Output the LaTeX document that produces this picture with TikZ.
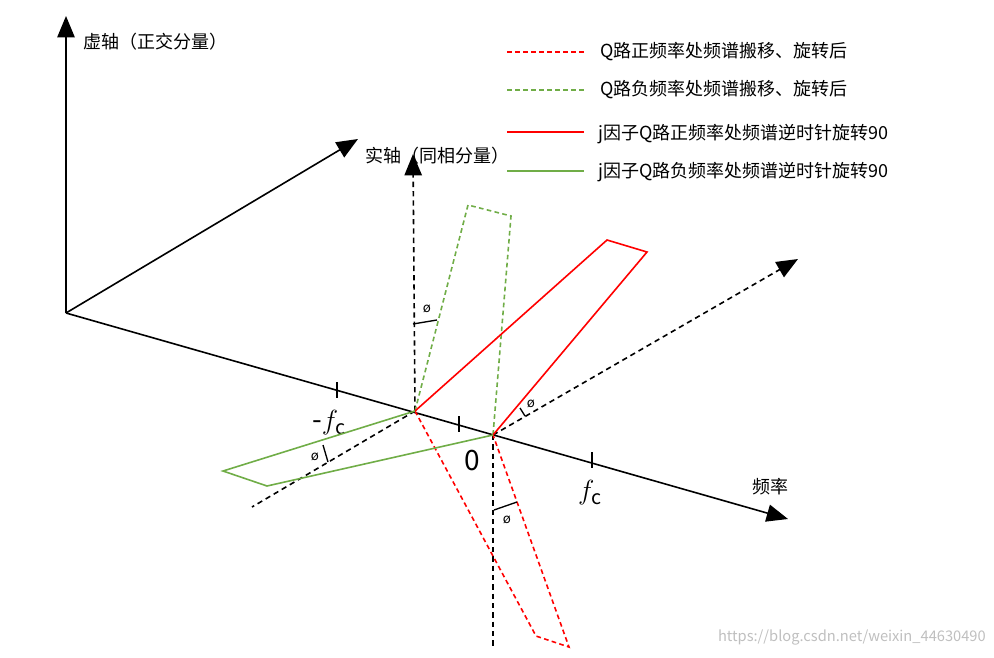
\documentclass[tikz,border=0pt]{standalone}
\usepackage{fontspec}
\setmainfont{Noto Sans CJK SC}
\usetikzlibrary{arrows.meta}
\begin{document}
\begin{tikzpicture}[x=0.75pt,y=-0.75pt,
  ax/.style={line width=1.2pt},
  axarr/.style={ax,-{Triangle[length=16pt,width=13pt]}},
  dsh/.style={line width=1.2pt,dash pattern=on 4pt off 3pt},
  rd/.style={red,line width=1.2pt},
  gr/.style={color={rgb,255:red,112;green,173;blue,71},line width=1.2pt},
  cd/.style={dash pattern=on 3.5pt off 2.5pt},
  lbl/.style={font=\fontsize{13.5}{15}\selectfont,inner sep=0pt,anchor=west},
  mk/.style={font=\fontsize{10}{11}\selectfont,inner sep=0pt}]
\useasboundingbox (0,0) rectangle (994,657);
\coordinate (O) at (66,313);
\coordinate (A) at (415,411);
\coordinate (B) at (493,435);
\draw[axarr] (O) -- (66,16) coordinate (vz);
\node[lbl] (vzl) at (83,42) {虚轴（正交分量）};
\draw[axarr] (O) -- (358,139) coordinate (re);
\node[lbl] (rel) at (365,156) {实轴（同相分量）};
\draw[axarr] (O) -- (788,519) coordinate (fr);
\node[lbl] (frl) at (752,487) {频率};
\draw[ax] (337,382) -- (337,398);
\draw[ax] (459,416) -- (459,432);
\draw[ax] (592,452) -- (592,468);
\node[font=\fontsize{21}{23}\selectfont,inner sep=0pt] (mfc) at (329,423) {-$f_{\mathrm{c}}$};
\node[font=\fontsize{21}{23}\selectfont,inner sep=0pt] (zero) at (472,461) {0};
\node[font=\fontsize{21}{23}\selectfont,inner sep=0pt] (fc) at (590,493) {$f_{\mathrm{c}}$};
\draw[dsh,-{Triangle[length=16pt,width=13pt]}] (A) -- (413,154);
\draw[dsh] (B) -- (493,648);
\draw[dsh,-{Triangle[length=16pt,width=13pt]}] (B) -- (798,259);
\draw[dsh] (A) -- (252,507);
\draw[gr,cd] (A) -- (468,205) -- (511,216) -- (B);
\draw[rd,cd] (A) -- (536,636) -- (569,647) -- (B);
\draw[rd] (A) -- (607,240) -- (647,252) -- (B);
\draw[gr] (A) -- (223,471) -- (267,486) -- (B);
\draw[line width=1pt] (413,324) -- (437,320);
\node[mk] (p1) at (427,309) {ø};
\draw[line width=1pt] (520,408) -- (525,416);
\node[mk] (p2) at (531,404) {ø};
\draw[line width=1pt] (494,510) -- (517,502);
\node[mk] (p3) at (507,520) {ø};
\draw[line width=1pt] (323,445) -- (328,462);
\node[mk] (p4) at (315,457) {ø};
\draw[rd,cd] (507,52) -- (584,52);
\node[lbl] (l1) at (600,52) {Q路正频率处频谱搬移、旋转后};
\draw[gr,cd] (507,90) -- (584,90);
\node[lbl] (l2) at (600,90) {Q路负频率处频谱搬移、旋转后};
\draw[rd] (507,132) -- (584,132);
\node[lbl] (l3) at (598,134) {j因子Q路正频率处频谱逆时针旋转90};
\draw[gr] (507,171) -- (584,171);
\node[lbl] (l4) at (598,172) {j因子Q路负频率处频谱逆时针旋转90};
\node[font=\fontsize{11}{12}\selectfont,text=black!25,inner sep=0pt,anchor=east] (wm) at (986,637) {https://blog.csdn.net/weixin\_44630490};
\end{tikzpicture}
\end{document}
